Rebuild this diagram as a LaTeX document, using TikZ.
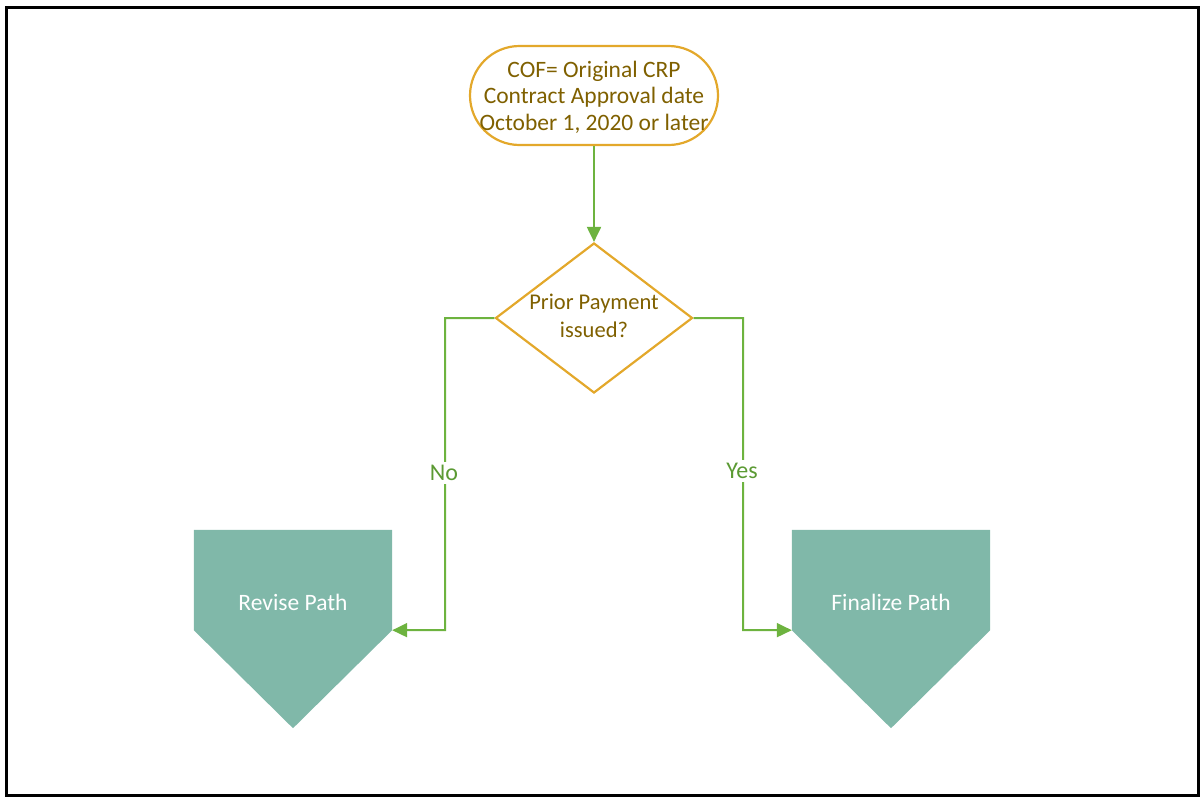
\documentclass[tikz,border=0pt]{standalone}
\usepackage{fontspec}
\setmainfont{Carlito}
\usetikzlibrary{shapes.misc,shapes.geometric,arrows.meta,calc}
\definecolor{goldline}{HTML}{E3A82B}
\definecolor{browntext}{HTML}{7F6000}
\definecolor{greenline}{HTML}{6DB33F}
\definecolor{greentext}{HTML}{5B9A33}
\definecolor{tealfill}{HTML}{80B8A9}
\begin{document}
\begin{tikzpicture}[x=1pt,y=-1pt,
  term/.style={rounded rectangle, draw=goldline, line width=2.2pt, minimum width=248pt, minimum height=99pt, inner sep=0pt},
  decis/.style={diamond, draw=goldline, line width=2.2pt, minimum width=197pt, minimum height=150pt, inner sep=0pt},
  txt/.style={text=browntext, font=\fontsize{23.5}{26.5}\selectfont, align=center, inner sep=0pt},
  pentbox/.style={rectangle, minimum width=198pt, minimum height=100pt, inner sep=0pt},
  penttxt/.style={text=white, font=\fontsize{23.5}{26}\selectfont, inner sep=0pt},
  conn/.style={draw=greenline, line width=2pt, -{Triangle[length=15pt,width=14pt]}},
  lbl/.style={text=greentext, fill=white, font=\fontsize{24}{26}\selectfont, inner sep=3pt}
]
\useasboundingbox (0,0) rectangle (1204,798);
\draw[black, line width=2.6pt] (6.5,7.5) rectangle (1198.5,795.5);

\node[term] (start) at (594,95.5) {};
\node[txt] (starttxt) at (594,97) {COF= Original CRP\\Contract Approval date\\October 1, 2020 or later};

\node[decis] (dec) at (594,318) {};
\node[txt, font=\fontsize{22.5}{28}\selectfont] (dectxt) at (594,316) {Prior Payment\\issued?};

\node[pentbox] (rev) at (293,580) {};
\fill[tealfill] (rev.north west) -- (rev.north east) -- (rev.south east) -- ($(rev.south)+(0,98)$) -- (rev.south west) -- cycle;
\node[penttxt] (revtxt) at (293,602) {Revise Path};

\node[pentbox] (fin) at (891,580) {};
\fill[tealfill] (fin.north west) -- (fin.north east) -- (fin.south east) -- ($(fin.south)+(0,98)$) -- (fin.south west) -- cycle;
\node[penttxt] (fintxt) at (891,602) {Finalize Path};

\coordinate (lt) at (445,318);
\coordinate (lb) at (445,630);
\coordinate (rt) at (743,318);
\coordinate (rb) at (743,630);

\draw[conn] (start.south) -- (dec.north);
\draw[conn] (dec.west) -- (lt) -- (lb) -- (rev.south east);
\draw[conn] (dec.east) -- (rt) -- (rb) -- (fin.south west);

\node[lbl] (nolbl) at (444,473) {No};
\node[lbl] (yeslbl) at (742,471) {Yes};
\end{tikzpicture}
\end{document}
